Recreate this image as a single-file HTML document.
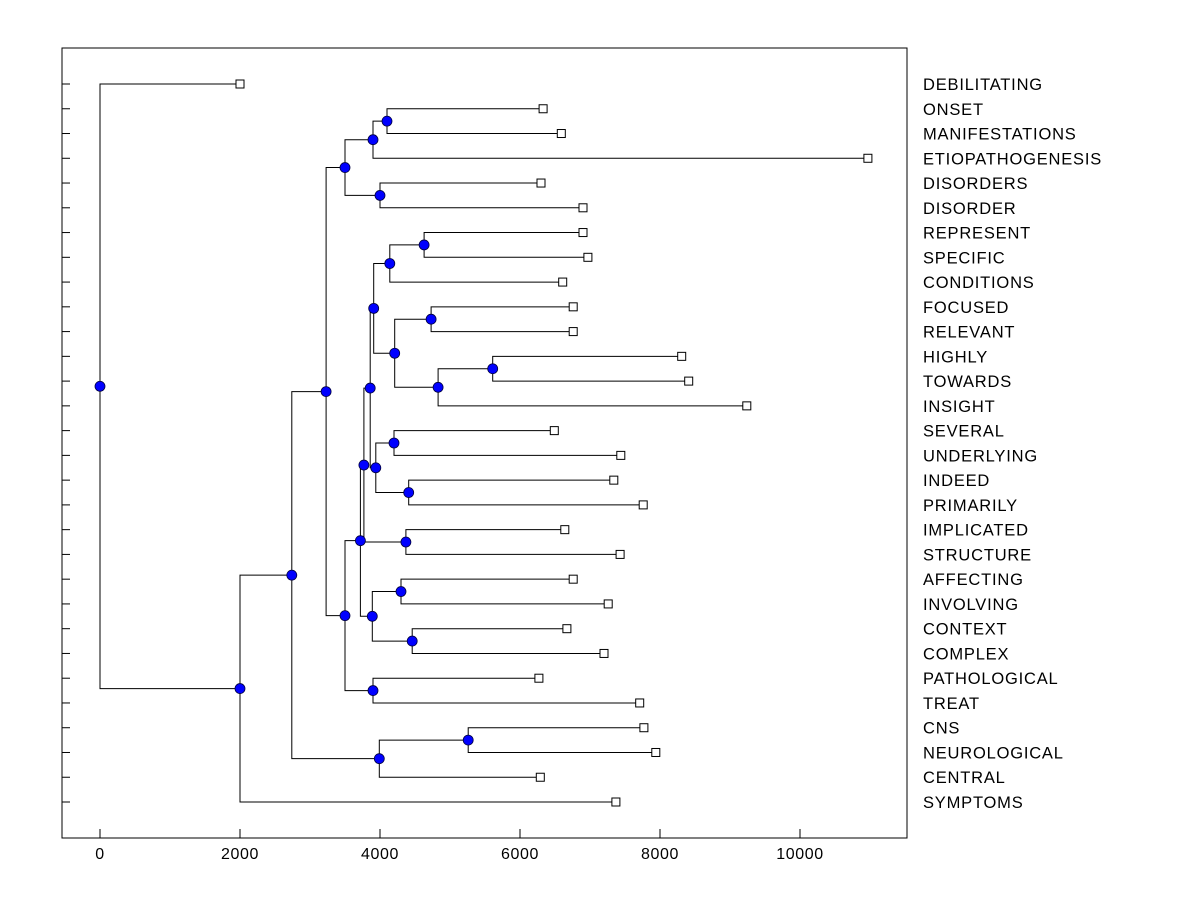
<!DOCTYPE html>
<html><head><meta charset="utf-8"><style>
body{margin:0;background:#fff}
svg{display:block}
text{font-family:"Liberation Sans",Arial,sans-serif}
</style></head><body>
<svg id="c" width="1200" height="900"></svg>
<script>
const leafNames=["DEBILITATING","ONSET","MANIFESTATIONS","ETIOPATHOGENESIS","DISORDERS","DISORDER","REPRESENT","SPECIFIC","CONDITIONS","FOCUSED","RELEVANT","HIGHLY","TOWARDS","INSIGHT","SEVERAL","UNDERLYING","INDEED","PRIMARILY","IMPLICATED","STRUCTURE","AFFECTING","INVOLVING","CONTEXT","COMPLEX","PATHOLOGICAL","TREAT","CNS","NEUROLOGICAL","CENTRAL","SYMPTOMS"];
const leafValues=[2000,6330,6590,10970,6300,6900,6900,6970,6610,6760,6760,8310,8410,9240,6490,7440,7340,7760,6640,7430,6760,7260,6670,7200,6270,7710,7770,7940,6290,7370];
const mergeChildren=[["L1","L2"],["N0","L3"],["L4","L5"],["N1","N2"],["L6","L7"],["N4","L8"],["L9","L10"],["L11","L12"],["N7","L13"],["N6","N8"],["N5","N9"],["L14","L15"],["L16","L17"],["N11","N12"],["N10","N13"],["L18","L19"],["N14","N15"],["L20","L21"],["L22","L23"],["N17","N18"],["N16","N19"],["L24","L25"],["N20","N21"],["N3","N22"],["L26","L27"],["N24","L28"],["N23","N25"],["N26","L29"],["L0","N27"]];
const mergeHeights=[4100,3900,4000,3500,4630,4140,4730,5610,4830,4210,3910,4200,4410,3940,3860,4370,3770,4300,4460,3890,3720,3900,3500,3230,5260,3990,2740,2000,0];
const xTicks=[0,2000,4000,6000,8000,10000];

const svg=document.getElementById('c');const NS='http://www.w3.org/2000/svg';
const X0=62,X1=907,Y0=48,Y1=838;
const xs=v=>100+v*0.07;
const ly=i=>84+i*(802-84)/29;
function el(t,a,p){const e=document.createElementNS(NS,t);for(const k in a)e.setAttribute(k,a[k]);(p||svg).appendChild(e);return e;}
const frame=el('rect',{x:X0,y:Y0,width:X1-X0,height:Y1-Y0,fill:'none',stroke:'#000','stroke-width':1});


const gAx=el('g',{});


xTicks.forEach(t=>{
  el('line',{x1:xs(t),x2:xs(t),y1:Y1,y2:Y1-9,stroke:'#000'},gAx);
  const tx=el('text',{x:xs(t),y:859,'text-anchor':'middle','font-size':16,'letter-spacing':0.6},gAx);tx.textContent=t;
  
  
});
const pos={};
leafNames.forEach((n,i)=>{pos['L'+i]={x:xs(leafValues[i]),y:ly(i)};});
const gL=el('g',{stroke:'#000','stroke-width':1,fill:'none'});


const nodePts=[];
mergeChildren.forEach((c,i)=>{
  const a=pos[c[0]],b=pos[c[1]],x=xs(mergeHeights[i]);
  const y=(a.y+b.y)/2;pos['N'+i]={x,y};
  el('path',{d:`M${a.x},${a.y}H${x}V${b.y}H${b.x}`},gL);
  nodePts.push({x,y});
});
leafNames.forEach((n,i)=>{
  const y=ly(i);
  el('line',{x1:X0,x2:X0+8,y1:y,y2:y,stroke:'#000'});
  const p=pos['L'+i];
  const r=el('rect',{x:p.x-4,y:y-4,width:8,height:8,fill:'#fff',stroke:'#000'});
  
  
  const t=el('text',{x:923,y:y+6,'font-size':16.5,'letter-spacing':0.8});t.textContent=n;
  
  
});
nodePts.forEach(p=>{
  const c=el('circle',{cx:p.x,cy:p.y,r:5,fill:'#0000ff',stroke:'#000040','stroke-width':0.8});
  
  
});
</script>
</body></html>
